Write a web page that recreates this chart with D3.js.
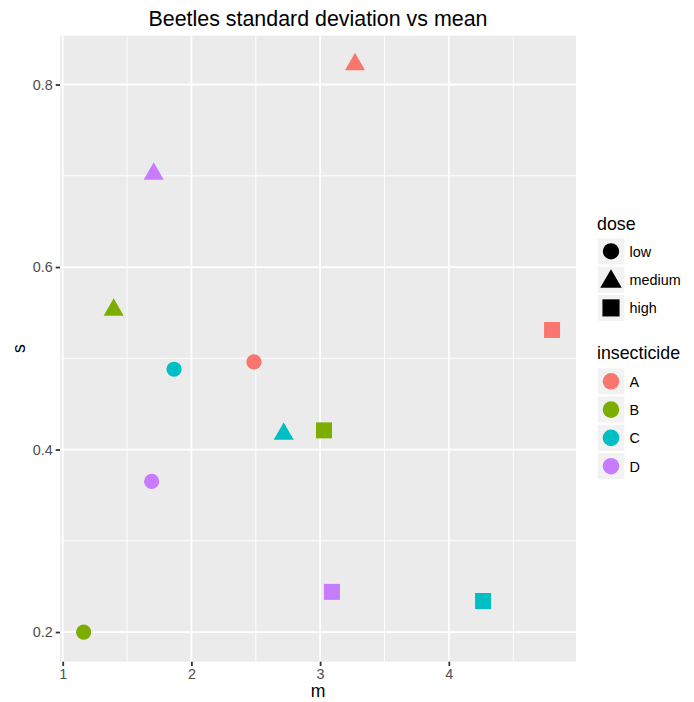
<!DOCTYPE html>
<html><head><meta charset="utf-8">
<script src="https://cdn.jsdelivr.net/npm/d3@7"></script>
<style>
body{margin:0;background:#fff;}
text{font-family:"Liberation Sans",Arial,Helvetica,sans-serif;}
</style></head><body>
<svg id="chart" width="694" height="702"></svg>
<script>
const insecticides = ["A","B","C","D"];
const doses = ["low","medium","high"];
const colors = ["#F8766D","#7CAE00","#00BFC4","#C77CFF"];
// mean (m) per insecticide, by dose low/medium/high
const mA = [2.486, 3.271, 4.802];
const mB = [1.163, 1.396, 3.030];
const mC = [1.865, 2.717, 4.266];
const mD = [1.691, 1.707, 3.092];
// sd (s) per insecticide, by dose
const sA = [0.496, 0.822, 0.531];
const sB = [0.200, 0.553, 0.421];
const sC = [0.488, 0.417, 0.234];
const sD = [0.365, 0.702, 0.244];
const xTicks = [1,2,3,4];
const yTicks = [0.2,0.4,0.6,0.8];
const xMinor = [1.5,2.5,3.5,4.5];
const yMinor = [0.3,0.5,0.7];

const ms = [mA,mB,mC,mD], ss = [sA,sB,sC,sD];
const data = [];
insecticides.forEach((ins,i)=>doses.forEach((d,j)=>data.push({ins, dose:d, m:ms[i][j], s:ss[i][j]})));

const svg = d3.select("#chart");
const L=60, R=576, T=35.7, B=661.7;
const x = d3.scaleLinear().domain([0.979,4.988]).range([L,R]);
const y = d3.scaleLinear().domain([0.1675,0.8535]).range([B,T]);
const color = d3.scaleOrdinal().domain(insecticides).range(colors);

svg.append("rect").attr("x",L).attr("y",T).attr("width",R-L).attr("height",B-T).attr("fill","#EBEBEB");
const g = svg.append("g");
g.selectAll("line.xmin").data(xMinor).join("line").attr("class","xmin").attr("x1",d=>x(d)).attr("x2",d=>x(d)).attr("y1",T).attr("y2",B).attr("stroke","#fff").attr("stroke-width",0.9);
g.selectAll("line.ymin").data(yMinor).join("line").attr("class","ymin").attr("y1",d=>y(d)).attr("y2",d=>y(d)).attr("x1",L).attr("x2",R).attr("stroke","#fff").attr("stroke-width",0.9);
g.selectAll("line.xmaj").data(xTicks).join("line").attr("class","xmaj").attr("x1",d=>x(d)).attr("x2",d=>x(d)).attr("y1",T).attr("y2",B).attr("stroke","#fff").attr("stroke-width",1.8);
g.selectAll("line.ymaj").data(yTicks).join("line").attr("class","ymaj").attr("y1",d=>y(d)).attr("y2",d=>y(d)).attr("x1",L).attr("x2",R).attr("stroke","#fff").attr("stroke-width",1.8);

const xAxis = svg.append("g").attr("transform",`translate(0,${B})`)
  .call(d3.axisBottom(x).tickValues(xTicks).tickFormat(d3.format("d")).tickSize(4.3).tickPadding(2.5));
const yAxis = svg.append("g").attr("transform",`translate(${L},0)`)
  .call(d3.axisLeft(y).tickValues(yTicks).tickFormat(d3.format(".1f")).tickSize(4.3).tickPadding(3));
[xAxis,yAxis].forEach(a=>{
  a.select(".domain").remove();
  a.selectAll(".tick line").attr("stroke","#333333").attr("stroke-width",1.8);
  a.selectAll(".tick text").attr("fill","#4D4D4D").style("font-size","14.4px").style("font-family","'Liberation Sans',Arial,sans-serif");
});

function shapePath(dose, size){
  if(dose==="low"){ const r=7.6*size; return `M${-r},0A${r},${r} 0 1,0 ${r},0A${r},${r} 0 1,0 ${-r},0Z`; }
  if(dose==="medium"){ const r=11.6*size, xc=r*0.866, yc=r*0.5; return `M0,${-r}L${xc},${yc}L${-xc},${yc}Z`; }
  const h=8*size; return `M${-h},${-h}H${h}V${h}H${-h}Z`;
}

svg.append("g").selectAll("path").data(data).join("path")
  .attr("transform",d=>`translate(${x(d.m)},${y(d.s)})`)
  .attr("d",d=>shapePath(d.dose,1))
  .attr("fill",d=>color(d.ins));

svg.append("text").attr("x",(L+R)/2).attr("y",26).attr("text-anchor","middle").style("font-size","21.4px").attr("fill","#000").text("Beetles standard deviation vs mean");
svg.append("text").attr("x",(L+R)/2).attr("y",697).attr("text-anchor","middle").style("font-size","17.6px").attr("fill","#000").text("m");
svg.append("text").attr("transform",`translate(25,${(T+B)/2}) rotate(-90)`).attr("text-anchor","middle").style("font-size","17.6px").attr("fill","#000").text("s");

// legends
const lg = svg.append("g");
lg.append("text").attr("x",597).attr("y",230).style("font-size","17.8px").text("dose");
doses.forEach((d,i)=>{
  const ky = 238.3 + i*28.3;
  lg.append("rect").attr("x",597.7).attr("y",ky).attr("width",26.6).attr("height",26).attr("fill","#F2F2F2");
  lg.append("path").attr("transform",`translate(611,${ky+13+(d==="medium"?2:0)})`).attr("d",shapePath(d,1.07)).attr("fill","#000");
  lg.append("text").attr("x",629.5).attr("y",ky+18.3).style("font-size","14.4px").text(d);
});
lg.append("text").attr("x",597).attr("y",358.5).style("font-size","17.8px").text("insecticide");
insecticides.forEach((d,i)=>{
  const ky = 368.3 + i*28.3;
  lg.append("rect").attr("x",597.7).attr("y",ky).attr("width",26.6).attr("height",26).attr("fill","#F2F2F2");
  lg.append("circle").attr("cx",611).attr("cy",ky+13).attr("r",8.3).attr("fill",color(d));
  lg.append("text").attr("x",629.5).attr("y",ky+18.3).style("font-size","14.4px").text(d);
});
</script>
</body></html>
